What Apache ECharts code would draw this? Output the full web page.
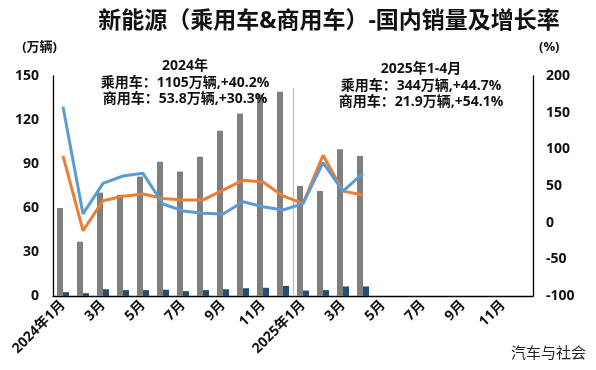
<!DOCTYPE html>
<html><head><meta charset="utf-8">
<script src="https://cdn.jsdelivr.net/npm/echarts@6/dist/echarts.min.js"></script>
<style>html,body{margin:0;padding:0;background:#fff}#c{width:596px;height:370px}</style>
</head><body><div id="c"></div>
<script>
const categories = ['2024年1月','2月','3月','4月','5月','6月','7月','8月','9月','10月','11月','12月',
  '2025年1月','2月','3月','4月','5月','6月','7月','8月','9月','10月','11月','12月'];
const passengerSales = [60, 37, 70.5, 69, 81.4, 91.6, 84.8, 95, 112.7, 124.5, 137.5, 139.3, 75, 71.6, 100, 95.5];
const commercialSales = [2.6, 1.9, 4.6, 4.0, 4.0, 4.3, 3.3, 4.0, 4.6, 5.3, 5.6, 6.9, 3.7, 4.0, 6.5, 6.5];
const passengerGrowth = [91, -11, 30, 36, 39, 33, 31, 31, 44.5, 58, 55.5, 36.5, 26, 92, 43, 37.7];
const commercialGrowth = [158, 12, 53.6, 63.6, 67.3, 25.4, 16, 12.7, 11.8, 28.6, 21.8, 17.3, 26, 82, 43, 67.3];
const leftTicks = {min: 0, max: 150, interval: 30};
const rightTicks = {min: -100, max: 200, interval: 50};
const note2024 = ['2024年', '乘用车：1105万辆,+40.2%', '商用车：53.8万辆,+30.3%'];
const note2025 = ['2025年1-4月', '乘用车：344万辆,+44.7%', '商用车：21.9万辆,+54.1%'];

const FONT = '"Open Sans","Noto Sans CJK SC",sans-serif';
const chart = echarts.init(document.getElementById('c'));
const noteStyle = {fontFamily: FONT, fontWeight: 'bold', fontSize: 14, fill: '#111', textAlign: 'center', lineHeight: 16.5};
chart.setOption({
  animation: false,
  grid: {left: 53, right: 63, top: 76, bottom: 74},
  title: {text: '新能源（乘用车&商用车）-国内销量及增长率', left: 324, top: 5, textAlign: 'center',
    textStyle: {fontFamily: FONT, fontWeight: 'bold', fontSize: 23, color: '#111'}},
  xAxis: {type: 'category', data: categories,
    axisLine: {lineStyle: {color: '#000', width: 1.3}}, axisTick: {show: false},
    axisLabel: {interval: 1, rotate: 45, fontFamily: FONT, fontWeight: 'bold', fontSize: 14, color: '#111', margin: 7}},
  yAxis: [
    {type: 'value', min: leftTicks.min, max: leftTicks.max, interval: leftTicks.interval,
     name: '(万辆)', nameLocation: 'end', nameGap: 22, nameTextStyle: {fontFamily: FONT, fontWeight: 'bold', fontSize: 13, color: '#111', align: 'right', padding: [0, -4, 0, 0]},
     splitLine: {show: false}, axisLine: {show: true, lineStyle: {color: '#000', width: 1.3}}, axisTick: {show: false},
     axisLabel: {fontFamily: FONT, fontWeight: 'bold', fontSize: 14, color: '#111', margin: 14}},
    {type: 'value', min: rightTicks.min, max: rightTicks.max, interval: rightTicks.interval,
     name: '(%)', nameLocation: 'end', nameGap: 22, nameTextStyle: {fontFamily: FONT, fontWeight: 'bold', fontSize: 13, color: '#111', align: 'left', padding: [0, 0, 0, 6]},
     splitLine: {show: false}, axisLine: {show: true, lineStyle: {color: '#000', width: 1.3}}, axisTick: {show: false},
     axisLabel: {fontFamily: FONT, fontWeight: 'bold', fontSize: 14, color: '#111', margin: 13}}
  ],
  series: [
    {name: '乘用车销量', type: 'bar', data: passengerSales, barWidth: 6, barGap: '0%', itemStyle: {color: '#7F7F7F'}},
    {name: '商用车销量', type: 'bar', data: commercialSales, barWidth: 6, itemStyle: {color: '#1F4E79'}},
    {name: '乘用车增长率', type: 'line', yAxisIndex: 1, data: passengerGrowth, symbol: 'none',
     lineStyle: {color: '#ED7D31', width: 3}},
    {name: '商用车增长率', type: 'line', yAxisIndex: 1, data: commercialGrowth, symbol: 'none',
     lineStyle: {color: '#5B9BD5', width: 3}}
  ]
});
const pDec = chart.convertToPixel({xAxisIndex: 0}, 11);
const pJan = chart.convertToPixel({xAxisIndex: 0}, 12);
const sepX = Math.round((pDec + pJan) / 2) + 0.5;
const topY = chart.convertToPixel({yAxisIndex: 0}, 142);
const botY = chart.convertToPixel({yAxisIndex: 0}, 0);
chart.setOption({
  graphic: [
    {type: 'line', shape: {x1: sepX, y1: topY, x2: sepX, y2: botY}, style: {stroke: '#9DC3E6', lineWidth: 1.2}, z: 1},
    {type: 'text', x: 185, y: 58, style: Object.assign({text: note2024.join('\n')}, noteStyle), z: 10},
    {type: 'text', x: 421, y: 61, style: Object.assign({text: note2025.join('\n')}, noteStyle), z: 10},
    {type: 'text', x: 586, y: 345, style: {text: '汽车与社会', fontFamily: '"Noto Sans CJK SC",sans-serif', fontSize: 15, fill: '#222', textAlign: 'right'}}
  ]
});
</script></body></html>
